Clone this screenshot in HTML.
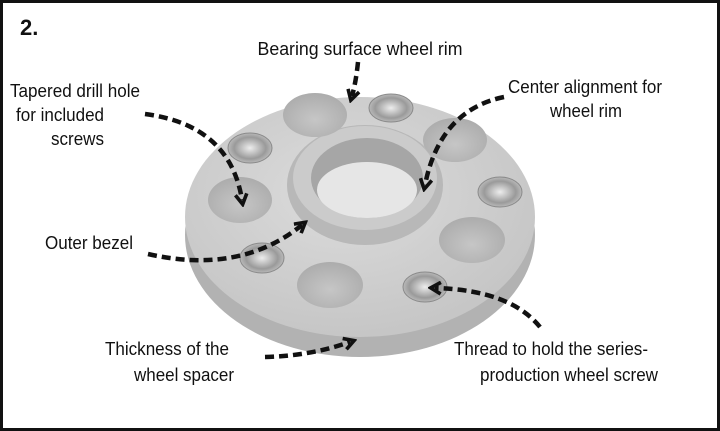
<!DOCTYPE html>
<html><head><style>
html,body{margin:0;padding:0;background:#fff}
svg{display:block}
text{font-family:"Liberation Sans",Arial,sans-serif;font-size:18px;fill:#111}
</style></head><body>
<svg width="720" height="431" viewBox="0 0 720 431" xmlns="http://www.w3.org/2000/svg">
<defs>
<radialGradient id="face" cx="0.45" cy="0.4" r="0.7">
<stop offset="0" stop-color="#dcdcdc"/><stop offset="1" stop-color="#c2c2c2"/></radialGradient>
<radialGradient id="hole" cx="0.5" cy="0.6" r="0.6">
<stop offset="0" stop-color="#c6c6c6"/><stop offset="1" stop-color="#acacac"/></radialGradient>
<radialGradient id="thr" cx="0.5" cy="0.5" r="0.6">
<stop offset="0" stop-color="#ededed"/><stop offset="0.6" stop-color="#9a9a9a"/><stop offset="1" stop-color="#d0d0d0"/></radialGradient>
<marker id="ah" viewBox="0 0 10 10" refX="5" refY="5" markerWidth="3.2" markerHeight="3.2" orient="auto">
<path d="M1,1 L8,5 L1,9" fill="none" stroke="#111" stroke-width="2.5"/></marker>
</defs>
<rect x="1.5" y="1.5" width="717" height="428" fill="#fff" stroke="#111" stroke-width="3"/>
<text x="20" y="35" style="font-size:22px;font-weight:bold">2.</text>
<!-- disc -->
<ellipse cx="360" cy="235" rx="175" ry="122" fill="#b2b2b2"/>
<ellipse cx="360" cy="217" rx="175" ry="120" fill="url(#face)"/>
<!-- hub -->
<ellipse cx="365" cy="185" rx="78" ry="60" fill="#b8b8b8"/>
<ellipse cx="365" cy="178" rx="72" ry="52" fill="#cbcbcb"/>
<ellipse cx="367" cy="178" rx="56" ry="40" fill="#a6a6a6"/>
<ellipse cx="367" cy="190" rx="50" ry="28" fill="#e6e6e6"/>
<!-- tapered holes -->
<ellipse cx="315" cy="115" rx="32" ry="22" fill="url(#hole)"/>
<ellipse cx="240" cy="200" rx="32" ry="23" fill="url(#hole)"/>
<ellipse cx="330" cy="285" rx="33" ry="23" fill="url(#hole)"/>
<ellipse cx="472" cy="240" rx="33" ry="23" fill="url(#hole)"/>
<ellipse cx="455" cy="140" rx="32" ry="22" fill="url(#hole)"/>
<!-- threaded holes -->
<ellipse cx="391" cy="108" rx="22" ry="14" fill="url(#thr)" stroke="#8a8a8a"/>
<ellipse cx="250" cy="148" rx="22" ry="15" fill="url(#thr)" stroke="#8a8a8a"/>
<ellipse cx="262" cy="258" rx="22" ry="15" fill="url(#thr)" stroke="#8a8a8a"/>
<ellipse cx="500" cy="192" rx="22" ry="15" fill="url(#thr)" stroke="#8a8a8a"/>
<ellipse cx="425" cy="287" rx="22" ry="15" fill="url(#thr)" stroke="#8a8a8a"/>
<!-- labels -->
<text x="360" y="55" text-anchor="middle" textLength="205" lengthAdjust="spacingAndGlyphs">Bearing surface wheel rim</text>
<text x="10" y="97" textLength="130" lengthAdjust="spacingAndGlyphs">Tapered drill hole</text>
<text x="16" y="121" textLength="88" lengthAdjust="spacingAndGlyphs">for included</text>
<text x="51" y="145" textLength="53" lengthAdjust="spacingAndGlyphs">screws</text>
<text x="508" y="93" textLength="154" lengthAdjust="spacingAndGlyphs">Center alignment for</text>
<text x="550" y="117" textLength="72" lengthAdjust="spacingAndGlyphs">wheel rim</text>
<text x="45" y="249" textLength="88" lengthAdjust="spacingAndGlyphs">Outer bezel</text>
<text x="105" y="355" textLength="124" lengthAdjust="spacingAndGlyphs">Thickness of the</text>
<text x="134" y="381" textLength="100" lengthAdjust="spacingAndGlyphs">wheel spacer</text>
<text x="454" y="355" textLength="194" lengthAdjust="spacingAndGlyphs">Thread to hold the series-</text>
<text x="480" y="381" textLength="178" lengthAdjust="spacingAndGlyphs">production wheel screw</text>
<!-- arrows -->
<g fill="none" stroke="#111" stroke-width="4.5" stroke-dasharray="9,5">
<path d="M358,62 Q356,82 352,96" marker-end="url(#ah)"/>
<path d="M145,114 Q230,125 242,200" marker-end="url(#ah)"/>
<path d="M504,97 Q440,110 425,185" marker-end="url(#ah)"/>
<path d="M148,254 Q240,275 302,225" marker-end="url(#ah)"/>
<path d="M265,357 Q310,356 350,342" marker-end="url(#ah)"/>
<path d="M540,327 Q510,290 435,288" marker-end="url(#ah)"/>
</g>
</svg>
</body></html>
